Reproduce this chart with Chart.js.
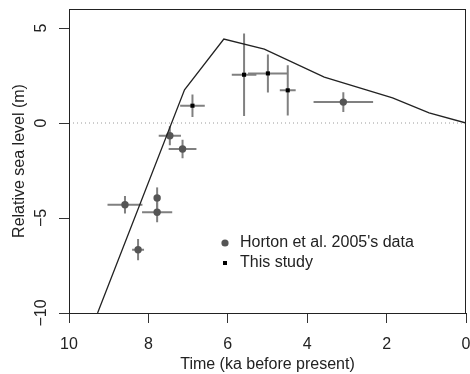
<!DOCTYPE html>
<html>
<head>
<meta charset="utf-8">
<script src="https://cdn.jsdelivr.net/npm/chart.js@4.4.1/dist/chart.umd.min.js"></script>
<style>
  html, body { margin: 0; padding: 0; background: #fff; }
  #wrap { width: 470px; height: 374px; }
</style>
</head>
<body>
<div id="wrap"><canvas id="chart" width="470" height="374"></canvas></div>
<script>
// model curve (ka, m)
var modelAge = [9.28, 7.09, 6.10, 5.08, 3.57, 1.85, 0.93, 0];
var modelRsl = [-10, 1.75, 4.42, 3.89, 2.42, 1.32, 0.53, 0];

// Horton et al. 2005
var hortonAge = [8.59, 8.26, 7.78, 7.78, 7.46, 7.14, 3.09];
var hortonRsl = [-4.30, -6.67, -3.95, -4.70, -0.67, -1.37, 1.10];
var hortonAgeErr = [0.44, 0.15, 0, 0.38, 0.28, 0.35, 0.75];
var hortonRslErr = [0.46, 0.56, 0.56, 0.53, 0.50, 0.49, 0.52];

// this study
var studyAge = [6.89, 5.59, 4.99, 4.49];
var studyRsl = [0.91, 2.54, 2.61, 1.72];
var studyAgeErr = [0.31, 0.31, 0.50, 0.20];
var studyRslErr = [0.59, 2.17, 1.00, 1.32];

var xTicks = [10, 8, 6, 4, 2, 0];
var yTicks = [-10, -5, 0, 5];
var legendLabels = ["Horton et al. 2005's data", "This study"];

var FONT = "'Liberation Sans', Arial, sans-serif";

function pts(xs, ys) {
  var out = [];
  for (let i = 0; i < xs.length; i++) out.push({x: xs[i], y: ys[i]});
  return out;
}

var errorBars = {
  id: 'errorBars',
  beforeDatasetsDraw: function(chart) {
    var ctx = chart.ctx, xs = chart.scales.x, ys = chart.scales.y;
    var a = chart.chartArea;
    ctx.save();
    ctx.beginPath();
    ctx.rect(a.left, a.top, a.right - a.left, a.bottom - a.top);
    ctx.clip();
    ctx.strokeStyle = '#808080';
    ctx.lineWidth = 2;
    function draw(ax, ay, ex, ey) {
      for (let i = 0; i < ax.length; i++) {
        let px = xs.getPixelForValue(ax[i]), py = ys.getPixelForValue(ay[i]);
        ctx.beginPath();
        if (ex[i] > 0) {
          ctx.moveTo(xs.getPixelForValue(ax[i] - ex[i]), py);
          ctx.lineTo(xs.getPixelForValue(ax[i] + ex[i]), py);
        }
        ctx.moveTo(px, ys.getPixelForValue(ay[i] - ey[i]));
        ctx.lineTo(px, ys.getPixelForValue(ay[i] + ey[i]));
        ctx.stroke();
      }
    }
    draw(hortonAge, hortonRsl, hortonAgeErr, hortonRslErr);
    draw(studyAge, studyRsl, studyAgeErr, studyRslErr);
    ctx.restore();
  },
  afterDraw: function(chart) {
    var ctx = chart.ctx, a = chart.chartArea;
    ctx.save();
    // box round the plot
    ctx.strokeStyle = '#222';
    ctx.lineWidth = 1;
    ctx.strokeRect(Math.round(a.left) + 0.5, Math.round(a.top) + 0.5,
      Math.round(a.right - a.left) - 1, Math.round(a.bottom - a.top));
    // legend
    var lx = a.left + 156, ly = a.top + 234;
    ctx.fillStyle = '#555';
    ctx.beginPath();
    ctx.arc(lx, ly, 3.6, 0, Math.PI * 2);
    ctx.fill();
    ctx.fillStyle = '#000';
    ctx.fillRect(lx - 2, ly + 20 - 2, 4, 4);
    ctx.fillStyle = '#222';
    ctx.font = '16px ' + FONT;
    ctx.textBaseline = 'middle';
    ctx.textAlign = 'left';
    ctx.fillText(legendLabels[0], lx + 15, ly);
    ctx.fillText(legendLabels[1], lx + 15, ly + 20);
    ctx.restore();
  }
};

var ctx = document.getElementById('chart').getContext('2d');
var chart = new Chart(ctx, {
  type: 'scatter',
  data: {
    datasets: [
      {
        label: 'zero',
        data: [{x: 10, y: 0}, {x: 0, y: 0}],
        showLine: true,
        borderColor: '#9a9a9a',
        borderWidth: 1,
        borderDash: [1, 3],
        pointRadius: 0
      },
      {
        label: 'model',
        data: pts(modelAge, modelRsl),
        showLine: true,
        borderColor: '#222',
        borderWidth: 1.3,
        pointRadius: 0,
        tension: 0
      },
      {
        label: legendLabels[0],
        data: pts(hortonAge, hortonRsl),
        pointStyle: 'circle',
        pointRadius: 3.7,
        backgroundColor: '#555',
        borderWidth: 0
      },
      {
        label: legendLabels[1],
        data: pts(studyAge, studyRsl),
        pointStyle: 'rect',
        pointRadius: 2.9,
        backgroundColor: '#000',
        borderWidth: 0
      }
    ]
  },
  options: {
    responsive: false,
    animation: false,
    devicePixelRatio: 1,
    layout: {padding: {left: 0, top: 9, right: 3, bottom: 0}},
    plugins: {legend: {display: false}, tooltip: {enabled: false}},
    scales: {
      x: {
        type: 'linear',
        min: 0, max: 10,
        reverse: true,
        afterBuildTicks: function(s) { s.ticks = xTicks.map(function(v){ return {value: v}; }); },
        afterFit: function(s) { s.height = 61; s.paddingLeft = 0; s.paddingRight = 0; },
        grid: {drawOnChartArea: false, drawTicks: true, tickLength: 10, color: '#333'},
        border: {display: true, color: '#222'},
        ticks: {autoSkip: false, maxRotation: 0, padding: 12, color: '#222',
          font: {family: FONT, size: 16}},
        title: {display: true, text: 'Time (ka before present)', color: '#222',
          font: {family: FONT, size: 16}, padding: {top: 0, bottom: 0}}
      },
      y: {
        type: 'linear',
        min: -10, max: 6,
        afterBuildTicks: function(s) { s.ticks = yTicks.map(function(v){ return {value: v}; }); },
        afterFit: function(s) { s.width = 69; s.paddingTop = 0; s.paddingBottom = 0; },
        grid: {drawOnChartArea: false, drawTicks: true, tickLength: 10, color: '#333'},
        border: {display: true, color: '#222'},
        ticks: {autoSkip: false, minRotation: 90, maxRotation: 90, crossAlign: 'center',
          padding: 4, color: '#222', font: {family: FONT, size: 16},
          callback: function(v) { return String(v).replace('-', '\u2212'); }},
        title: {display: true, text: 'Relative sea level (m)', color: '#222',
          font: {family: FONT, size: 16}, padding: {top: 10, bottom: 0}}
      }
    }
  },
  plugins: [errorBars]
});
</script>
</body>
</html>
